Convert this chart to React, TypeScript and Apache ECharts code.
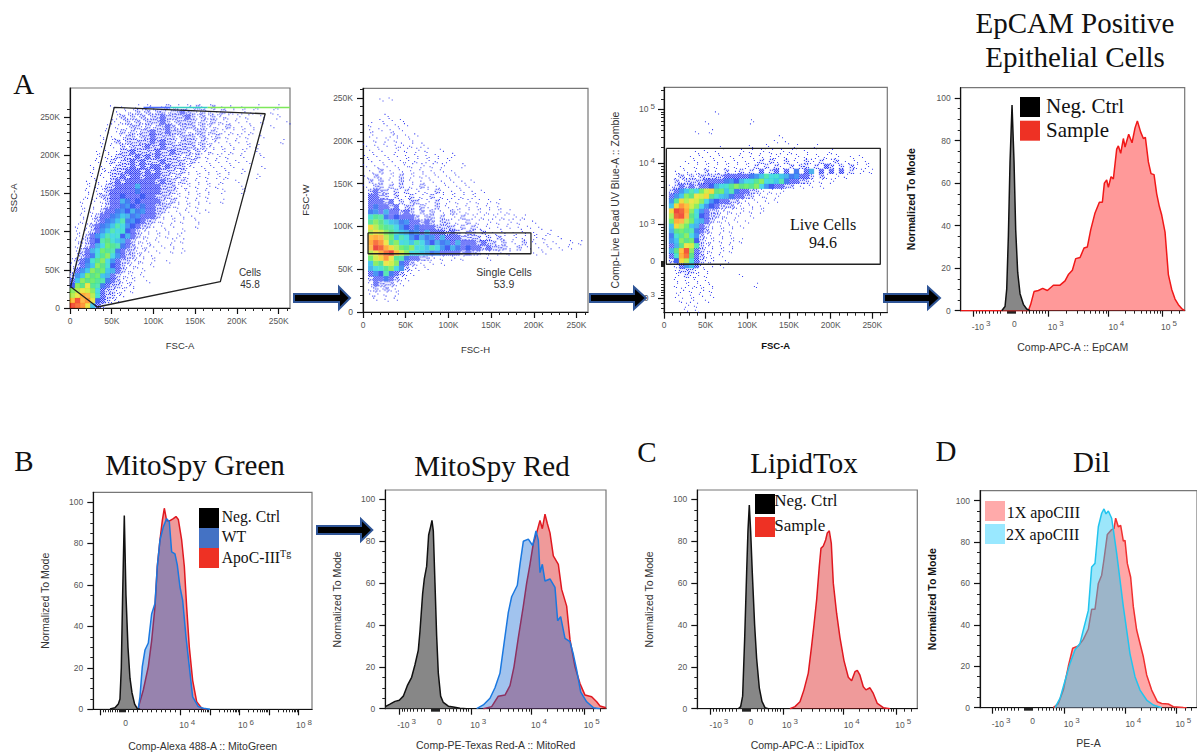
import React, { useEffect, useRef } from "react";
import * as echarts from "echarts";

const SANS = "Liberation Sans";
const SERIF = "Liberation Serif";

// ---------- density: '.'=none, 1..9 = blue -> red; bottom row last ----------
const cellsDensity = [
  "........1.1..1.11.1211.1121.2.1.1.1..1...1..",
  ".........1.1121212212232212111211.1.1...1...",
  ".........12121212232222321212111.1.1..1..1..",
  "........1.1212122232122221212111.1.1..1....1",
  ".......1.1.1221212232122212111.21.1.1...1...",
  ".......1.1212122322322211221211.1.1.1.......",
  "......1.1.12212232222122212112.1.1.1..1.....",
  "......1.1212222232322122212111.1.1.1......1.",
  "......1.1.2122232232222221211.1.1..1.1......",
  ".....1.1.12232222322322212111.1.1.1..1......",
  ".....1.1122223232322221212.1.1.1..1...1.....",
  ".....1.1212232322232222121.1.1.1.1.1........",
  "....1.1.12223232332322211.1.1.1.1.....1.....",
  "....1.112223332323222121.1.1.1.1..1.........",
  "....1.1.2232332333221211.1.1.1.1.....1......",
  "...1.1.12323333332322121.1.1..1..1..........",
  "...1.1122333343333222111.1.1.1....1.........",
  "...1.11233333433332221.1.1.1..1...1.........",
  "...1.12233433343322211.1.1.1................",
  "..1.1.1233443433332121.1.1.1..1.............",
  "..1.1.1233444343322211.1.1..................",
  "..1.1.23344444433221.1.1.1.1................",
  "..1.123344544433321.1.1.1...................",
  "..1.123445544432211.1.1..1..................",
  ".1.12344555443221.1.1....1..................",
  ".1.1234555543211.1.1..1.....................",
  ".1.2345555443211.1.1.1......................",
  ".112345655432111.1..1.1.....................",
  ".1123456654321111.1.1.......................",
  ".123456654322111.1..1.1.....................",
  ".12345665432211.1...........................",
  "123456654322111.1..1........................",
  "12345665432111..1...........................",
  "1345666543211.1.............................",
  "2456665432111.1.............................",
  "3566665432111..1............................",
  "4667654322111...............................",
  "67776532211.1...............................",
  "77887532211.................................",
  "8988743211..................................",
  "9987532.....................................",
];

const singleDensity = [
  "...1.1",
  "",
  "",
  "....1",
  "...1.1.1",
  ".1..1.1.1",
  ".1.1.1.1",
  ".1...11.1.1",
  "..1.1.1..1",
  "1.1.1.11.1.1",
  ".1.1..1.1.1.1..1",
  "1.1.1.1.1.1.1.1..1",
  ".1.1.1.11.1.1.1.1",
  "1.1.1.1.11.1.1.1...1",
  ".1.2.1.1.1.1.1.1.1",
  "1.21.1.2.1.11.1.1.1",
  ".2.2.1.2.1.1.1.1.1.1.1",
  "1.22.2.2.1.21.1.1.1.1",
  ".2322.2.2.1.1.21.1.1.1.1",
  ".3322.2.12.1.2.1.1.1.1",
  ".33323.2.22.1.2.1.1.1.1.1.1",
  ".343323.22.21.2.1.1.1.1.1.1",
  ".443433232.2.2.1.21.1.1.1.1.1",
  ".5654343332.22.2.1.2.1.1.1.1.1.1",
  ".6665544433232.22.1.2.1.1.1.1.1..1",
  ".77665544343332222.2.21.1.1.1.1.1.1",
  ".777665544434333232.22.2.1.1.1.1.1..1",
  ".8887655544444343332222.2.21.1.1.1.1..1",
  ".8987665555544444343332322.2.1.2.1.1.1..1.1",
  ".8998776665555544443433232221.2.1.1.1.1.1",
  ".7789987655544433332322.1.1.1....1.1",
  ".6778765433221.1.1.1....1",
  ".56677643211.1.1",
  ".4556654211.1",
  ".344543211",
  ".23343211",
  ".1322211",
  ".121211",
  ".11.1.1",
  "..1.1.1",
  "",
  "",
];

const liveDensity = [
  "..........1",
  "",
  "........1........1",
  "",
  "......1..1",
  ".......................1",
  "......................1.1",
  "...........1.....1..1.....1...1",
  "......1.1.1....1.1.1.1.1.1..1....1",
  ".....1.1.1.1.1.1.1.1.11.1.1.1.1.1.1..1.1",
  "....1.1.1.1.1.1.1.12.21.2.1.21.2.12.1.1.1",
  "...1..1.1.1.1.1.1.2.2.21.2.22.2.32.2.21.1",
  "..1.1.1.2.1.2.12.2.3.23.3.4.34.3.3.3.2.1.1",
  "..1212122222333334455555444332.21.1.1",
  "..2122223333444455665555433221.1.1",
  ".1232323344556666665443322.1.1.1",
  ".2345556776655433221.1.1",
  ".34566777655443322.11.1",
  ".4677776544332211.1.1.1",
  ".578876544322211.1.1",
  ".7998654322111.1.1.1",
  ".799865432211.1..1",
  ".688765432111.1.1",
  ".577654321.1.1.1",
  ".466654321.1.1",
  ".456654211.1.1",
  ".456664211.1.1.1",
  ".346775211.1.1",
  ".468963211.1.1",
  ".358963211.1",
  ".247753211..1",
  "..134531.1.1",
  "..12221.1",
  "..1.211.1......1",
  "..1.1.1.1",
  "..1.1.11.1........1",
  "...1.1.1.1",
  "..1..1.1.1",
  "...1.1..1",
  "....1.1",
  "....1.1",
];

// ---------- gates, in axis units ----------
const cellsGate = [[0.8, 27.9], [53, 262.6], [233.8, 254.3], [180, 34.4], [32.7, 1.3], [0.8, 27.9]];
const saturatedBlue = [[88, 262.4], [120, 262.4]];
const saturatedCyan = [[120, 262.4], [165, 262.4]];
const saturatedGreen = [[165, 262.4], [263.5, 262.4]];
const singleGate = [[5.9, 92.6], [196.7, 92.6], [196.7, 68.1], [5.9, 68.1], [5.9, 92.6]];
const liveGate = [[2.8, 729], [259.6, 729], [259.6, 215], [2.8, 215], [2.8, 729]];

// ---------- histograms: [display channel, normalized to mode] ----------
const epcamNeg = [[335, 0], [345, 2], [350, 10], [355, 35], [360, 70], [366, 96.7], [372, 70], [377, 38], [383, 18], [390, 8], [400, 3], [410, 0.8], [420, 0]];
const epcamSample = [[212, 0], [415, 0], [422, 3], [432, 9], [445, 9.5], [458, 10.5], [472, 9.5], [490, 12], [510, 12], [525, 14], [535, 17], [547, 19], [557, 24.5], [570, 25], [582, 29.5], [592, 30], [602, 38], [615, 46], [628, 51], [637, 51], [643, 60], [650, 61.5], [655, 58], [663, 63], [670, 62], [680, 76], [685, 77.5], [692, 74], [700, 81], [705, 77], [716, 83], [726, 79], [735, 86], [742, 89.3], [752, 84], [760, 81], [766, 81.5], [775, 70], [783, 64.5], [792, 64], [800, 55], [808, 49], [815, 45], [825, 37], [835, 17], [845, 10], [855, 5.5], [865, 2.8], [875, 1], [884, 0]];

const greenNeg = [[330, 0.2], [345, 0.7], [355, 2.5], [360, 5], [364, 20], [368, 55], [373, 93.5], [378, 55], [384, 30], [390, 15], [396, 8], [404, 2.5], [412, 0.3], [420, 0]];
const greenApo = [[415, 0.8], [430, 9.3], [445, 20.6], [455, 33], [465, 49.5], [472, 69], [480, 81.7], [487, 91], [493, 97], [500, 91], [510, 91], [520, 92], [528, 93], [535, 91.6], [545, 81.7], [553, 69], [560, 49.5], [568, 30], [578, 14], [590, 3.7], [605, 0.5], [620, 0]];
const greenWt = [[415, 0.5], [420, 6], [427, 20.6], [435, 28.6], [445, 32], [455, 46], [465, 51], [472, 69], [480, 81.7], [490, 88], [500, 92], [508, 90.5], [515, 76], [525, 75], [532, 69.6], [540, 59], [548, 52.7], [558, 35], [568, 20.6], [578, 6], [595, 1.3], [610, 0.5], [630, 0]];

const redNeg = [[226, 1], [240, 2.2], [255, 3.5], [268, 4], [280, 6], [292, 11], [305, 15], [315, 21], [325, 28], [330, 37], [338, 55], [343, 62], [350, 68], [356, 83], [362, 87], [366, 90], [370, 85], [375, 60], [380, 35], [385, 17], [392, 6], [400, 3], [415, 1.2], [430, 0.8], [450, 0.2], [470, 0]];
const redApo = [[520, 0], [545, 1], [565, 6], [585, 6.5], [600, 11], [612, 20], [625, 34], [640, 49], [650, 60], [660, 69], [670, 79], [680, 84], [690, 90], [697, 86], [705, 93], [712, 88.5], [720, 84], [730, 73], [745, 69], [755, 57], [770, 49], [780, 33], [795, 20], [810, 12], [825, 6.5], [845, 5.7], [860, 3.3], [870, 1.3], [888, 0.5]];
const redWt = [[500, 0], [520, 1.8], [540, 5], [555, 10], [570, 17], [582, 31], [595, 46], [605, 53.5], [622, 59], [630, 69], [640, 80], [655, 81], [668, 78], [678, 85], [685, 80.5], [690, 65], [697, 69], [705, 61], [720, 62], [735, 58], [743, 42], [752, 44], [765, 33.6], [780, 32], [790, 26], [800, 18.5], [812, 8], [830, 3.3], [850, 0.5], [870, 0]];

const lipidNeg = [[355, 0], [362, 1], [368, 6], [374, 33], [380, 65], [384, 85], [388, 97.3], [392, 85], [397, 65], [404, 40], [410, 24], [418, 10], [426, 3.5], [435, 0.5], [445, 0]];
const lipidSample = [[510, 0], [525, 1], [540, 3.3], [552, 9], [565, 17], [575, 30], [582, 40], [590, 52], [598, 68], [603, 76.6], [610, 77.7], [617, 80.6], [622, 84], [628, 85], [634, 79], [640, 60], [650, 45.5], [660, 34], [672, 23], [685, 15], [695, 13.4], [705, 17.7], [712, 18.3], [720, 16], [730, 10.5], [738, 9], [750, 10], [760, 7.3], [772, 2.5], [790, 0.5], [810, 0]];

const dilOne = [[400, 0], [415, 2], [430, 8.5], [445, 20], [458, 28.7], [475, 29.8], [490, 33], [505, 38], [515, 47.5], [525, 47.5], [535, 60], [545, 64], [552, 71.7], [562, 83.7], [575, 86], [582, 86.5], [587, 91.5], [595, 87.4], [602, 88], [610, 80.5], [615, 80.8], [622, 69.7], [632, 63], [640, 48.8], [650, 37.5], [660, 31], [670, 24.6], [680, 15.8], [695, 8.5], [712, 2.9], [725, 2], [745, 1.8], [760, 0.5], [790, 0.1], [800, 0]];
const dilTwo = [[405, 0], [420, 4.5], [435, 13], [450, 21.4], [465, 28], [480, 31], [490, 37.5], [505, 47], [515, 68], [525, 69.7], [535, 87.4], [545, 93.9], [552, 96], [558, 93.6], [565, 95], [575, 91.5], [580, 86], [590, 74.5], [600, 61.7], [610, 48.8], [620, 37.5], [630, 26], [645, 15], [660, 8.5], [680, 3.7], [700, 1.3], [725, 0]];

// ---------- tick labels: [position, text] ----------
const kTicks = [0, 50, 100, 150, 200, 250];
const normTicks = [0, 20, 40, 60, 80, 100];
const liveYLabels: [number, string][] = [[902, "10^5"], [664, "10^4"], [393, "10^3"], [230, "0"], [66, "-10^3"]];
const epcamLabels: [number, string][] = [[273, "-10^3"], [373, "0"], [497, "10^3"], [679, "10^4"], [837, "10^5"]];
const greenLabels: [number, string][] = [[377, "0"], [562, "10^4"], [738, "10^6"], [912, "10^8"]];
const redLabels: [number, string][] = [[290, "-10^3"], [388, "0"], [505, "10^3"], [687, "10^4"], [845, "10^5"]];
const lipidLabels: [number, string][] = [[297, "-10^3"], [393, "0"], [510, "10^3"], [695, "10^4"], [850, "10^5"]];
const dilLabels: [number, string][] = [[243, "-10^3"], [338, "0"], [455, "10^3"], [640, "10^4"], [790, "10^5"]];

// ---------- helpers for axis decoration ----------
const range = (a: number, b: number, s: number) => { const o: number[] = []; for (let v = a; v <= b + 1e-9; v += s) o.push(v); return o; };
const decade = (a: number, b: number) => [2, 3, 4, 5, 6, 7, 8, 9].map((k) => a + Math.log10(k) * (b - a));
const spread = [0.1, 0.18, 0.27, 0.37, 0.48, 0.6, 0.72, 0.84];
const biexMinor = (neg: number, z: number, p3: number, ...decs: number[]) => {
  const out: number[] = [];
  spread.forEach((f) => { out.push(neg + (z - neg) * f * 0.85); out.push(p3 - (p3 - z) * f * 0.85); });
  out.push(...range(z - 12, z + 12, 3));
  for (let i = 0; i + 1 < decs.length; i++) out.push(...decade(decs[i], decs[i + 1]));
  return out;
};
const supLabel = (t: string) => {
  const m = t.split("^");
  return m.length === 2 ? `{b|${m[0]}}{s|${m[1]}}` : `{b|${t}}`;
};
const rich = {
  b: { fontSize: 8.5, fontFamily: SANS, color: "#555" },
  s: { fontSize: 8, fontFamily: SANS, color: "#555", padding: [0, 0, 6, 2] },
};

type Box = { l: number; r: number; t: number; b: number };
type AxisCfg = { min: number; max: number; majors: number[]; minors: number[]; labels: [number, string][]; name: string; gap: number; nameBold?: boolean; nameSize?: number; margin: number };

const makeAxis = (c: AxisCfg, pos: string) => [
  {
    type: "value", position: pos, min: c.min, max: c.max, splitLine: { show: false }, name: c.name, nameLocation: "middle", nameGap: c.gap,
    nameTextStyle: { fontFamily: SANS, fontSize: c.nameSize ?? 10.5, color: c.nameBold ? "#111" : "#333", fontWeight: c.nameBold ? "bold" : "normal" },
    axisLine: { show: true, onZero: false, lineStyle: { color: "#111", width: 1.2 } },
    axisTick: { show: true, length: 6, customValues: c.majors, lineStyle: { color: "#111", width: 1.2 } },
    minorTick: { show: false },
    axisLabel: {
      show: true, margin: c.margin, customValues: c.labels.map((x) => x[0]), hideOverlap: false,
      formatter: (v: number) => { const f = c.labels.find((x) => Math.abs(x[0] - v) < 1e-6); return f ? supLabel(f[1]) : ""; },
      rich,
    },
  },
  {
    type: "value", position: pos, min: c.min, max: c.max, splitLine: { show: false },
    axisLine: { show: false, onZero: false },
    axisTick: { show: true, length: 3, customValues: c.minors, lineStyle: { color: "#222", width: 1 } },
    axisLabel: { show: false },
  },
];

const kLabels = (): [number, string][] => kTicks.map((v) => [v, v === 0 ? "0" : `${v}K`]);
const normLabels = (): [number, string][] => normTicks.map((v) => [v, `${v}`]);

const grids: any[] = [];
const xAxes: any[] = [];
const yAxes: any[] = [];
const addPanel = (b: Box, x: AxisCfg, y: AxisCfg) => {
  const i = grids.length;
  grids.push({ show: true, left: b.l, top: b.t, width: b.r - b.l, height: b.b - b.t, borderColor: "#777", borderWidth: 1.2, backgroundColor: "#fff" });
  makeAxis(x, "bottom").forEach((a) => xAxes.push({ ...a, gridIndex: i }));
  makeAxis(y, "left").forEach((a) => yAxes.push({ ...a, gridIndex: i }));
  return i;
};
const normY = (max: number, gap: number, bold = false): AxisCfg => ({ min: 0, max, majors: normTicks, minors: range(5, 95, 5).filter((v) => v % 20 !== 0), labels: normLabels(), name: "Normalized To Mode", gap, nameBold: bold, margin: 10 });
const kAxis = (max: number, name: string, gap: number, bold = false, size = 9.5): AxisCfg => ({ min: 0, max, majors: kTicks, minors: range(10, 260, 10).filter((v) => v <= max && v % 50 !== 0), labels: kLabels(), name, gap, nameBold: bold, nameSize: size, margin: 8 });

const P_CELLS = addPanel({ l: 70, r: 290, t: 88, b: 308 }, kAxis(263.5, "FSC-A", 32), { ...kAxis(288, "SSC-A", 52), margin: 10 });
const P_SINGLE = addPanel({ l: 363, r: 588, t: 88.3, b: 312 }, kAxis(263.5, "FSC-H", 32), { ...kAxis(261.5, "FSC-W", 53), margin: 10 });
const P_LIVE = addPanel({ l: 664, r: 887.3, t: 87.3, b: 312.7 }, kAxis(268, "FSC-A", 28, true, 9.5), {
  min: 0, max: 1000, majors: [66, 393, 664, 902], minors: biexMinor(66, 216, 393, 393, 664, 902).concat([20, 40, 948, 985]), labels: liveYLabels, name: "Comp-Live Dead UV Blue-A :: Zombie", gap: 44, margin: 9,
});
const P_EPCAM = addPanel({ l: 960.7, r: 1184.7, t: 87.7, b: 310.7 }, {
  min: 212, max: 884, majors: [250, 474, 656, 817], minors: biexMinor(250, 365, 474, 474, 656, 817).concat([845, 868]), labels: epcamLabels, name: "Comp-APC-A :: EpCAM", gap: 31, margin: 9,
}, normY(104.9, 44, true));
const P_GREEN = addPanel({ l: 93.3, r: 312, t: 492.3, b: 709.3 }, {
  min: 280, max: 936, majors: [300, 540, 630, 718, 807, 895], minors: range(310, 352, 7).concat(range(358, 376, 3), range(385, 530, 14), decade(540, 630), decade(630, 718), decade(718, 807), decade(807, 895)), labels: greenLabels, name: "Comp-Alexa 488-A :: MitoGreen", gap: 31, margin: 9,
}, normY(104.7, 43));
const P_RED = addPanel({ l: 385.3, r: 606, t: 490, b: 708.7 }, {
  min: 226, max: 888, majors: [267, 485, 665, 823], minors: biexMinor(267, 375, 485, 485, 665, 823).concat([850, 872]), labels: redLabels, name: "Comp-PE-Texas Red-A :: MitoRed", gap: 31, margin: 9,
}, normY(104.5, 43));
const P_LIPID = addPanel({ l: 697.3, r: 917.3, t: 490, b: 708.7 }, {
  min: 232, max: 892, majors: [272, 490, 671, 828], minors: biexMinor(272, 380, 490, 490, 671, 828).concat([852, 875]), labels: lipidLabels, name: "Comp-APC-A :: LipidTox", gap: 31, margin: 9,
}, normY(104.5, 43));
const P_DIL = addPanel({ l: 980, r: 1197, t: 490.7, b: 707.7 }, {
  min: 180, max: 831, majors: [218, 433, 616, 770], minors: biexMinor(218, 325, 433, 433, 616, 770).concat([795, 815]), labels: dilLabels, name: "PE-A", gap: 30, margin: 9,
}, normY(104.8, 43, true));

// ---------- marker styles for the density cells ----------
const solidColors: Record<number, string[]> = {
  4: ["#1438f0", "#1a7cf0", "#1c5cf0", "#20a0e8"],
  5: ["#18b8e8", "#20d8c8", "#20d0e0", "#30e0a0"],
  6: ["#30e080", "#50e850", "#38dc70", "#70e840"],
  7: ["#c8e820", "#e8e020", "#a8e830", "#f0d010"],
  8: ["#ff9a10", "#ffb010", "#ff8010", "#ffa820"],
  9: ["#f02a10", "#f04010", "#e81c10", "#f85010"],
};
const stamps: Record<number, number[][][]> = {
  1: [[[0, 1], [3, 3]], [[2, 0], [4, 2], [1, 4]], [[1, 2], [4, 4]], [[3, 0], [0, 3], [2, 4]]],
  2: [
    [[0, 0], [2, 1], [4, 1], [1, 3], [3, 2], [4, 4]],
    [[1, 0], [3, 0], [0, 2], [2, 3], [4, 3], [1, 4]],
    [[0, 1], [2, 0], [4, 2], [2, 2], [0, 4], [3, 4]],
    [[3, 1], [1, 1], [4, 0], [0, 3], [2, 4], [4, 4]],
  ],
  3: [0, 1, 0, 1].map((v) => range(0, 4, 1).flatMap((x) => range(0, 4, 1).filter((y) => (x + y + v) % 2 === 0).map((y) => [x, y]))),
};
const stampPath = (dots: number[][]) => `path://M0 0L0 0M5 5L5 5${dots.map(([x, y]) => `M${x} ${y}h1v1h-1z`).join("")}`;

const densitySeries = (rows: string[], panel: number, cw: number, ch: number) => {
  const out: any[] = [];
  const base = { type: "scatter", silent: true, xAxisIndex: panel * 2, yAxisIndex: panel * 2 };
  const under: Record<number, any[]> = { 2: [], 3: [] };
  const dots: any[] = [];
  const solids: Record<number, any[]> = { 4: [], 5: [], 6: [], 7: [], 8: [], 9: [] };
  rows.forEach((row, i) => {
    const r = rows.length - 1 - i;
    for (let c = 0; c < row.length; c++) {
      if (row[c] === ".") continue;
      const level = Number(row[c]);
      const pos = [(c + 0.5) * cw, (r + 0.5) * ch];
      const v = (c * 7 + r * 13) % 4;
      if (level <= 3) {
        if (under[level]) under[level].push(pos);
        dots.push({ value: pos, symbol: stampPath(stamps[level][v]) });
      } else {
        solids[level].push({ value: pos, itemStyle: { color: solidColors[level][v] } });
      }
    }
  });
  out.push({ ...base, data: under[2], symbol: "rect", symbolSize: 5.2, itemStyle: { color: "#e2e5ff" }, z: 2 });
  out.push({ ...base, data: under[3], symbol: "rect", symbolSize: 5.2, itemStyle: { color: "#aeb7ff" }, z: 2.1 });
  out.push({ ...base, data: dots, symbolSize: 5.2, itemStyle: { color: "#0a14f0" }, z: 2.2 });
  [4, 5, 6, 7, 8, 9].forEach((level) => {
    out.push({ ...base, data: solids[level], symbol: "rect", symbolSize: 5.3, z: 2.3 + level * 0.01 });
  });
  return out;
};
const gateSeries = (data: number[][], panel: number, color = "#222", w = 1.3) => ({
  type: "line", silent: true, xAxisIndex: panel * 2, yAxisIndex: panel * 2, data, symbol: "none", lineStyle: { color, width: w }, z: 5,
});
const hist = (data: number[][], panel: number, line: string, fill: string, z: number, w = 1.5) => ({
  type: "line", silent: true, xAxisIndex: panel * 2, yAxisIndex: panel * 2, data, symbol: "none", smooth: false,
  lineStyle: { color: line, width: w }, areaStyle: { color: fill, opacity: 1, origin: "start" }, z,
});

// ---------- annotation helpers ----------
const txt = (text: string, x: number, y: number, fontSize: number, fontFamily: string, extra: any = {}, align = "center") => ({
  type: "text", x, y, z: 60, silent: true,
  style: { text, fontSize, fontFamily, fill: "#111", align, verticalAlign: "middle", ...extra },
});
const swatch = (x: number, y: number, w: number, h: number, fill: string) => ({ type: "rect", z: 55, silent: true, shape: { x, y, width: w, height: h }, style: { fill } });
const arrow = (x0: number, x1: number, head: number, cy: number) => ({
  type: "polygon", z: 80, silent: true,
  shape: { points: [[x0, cy - 4], [head, cy - 4], [head, cy - 11], [x1, cy], [head, cy + 11], [head, cy + 4], [x0, cy + 4]] },
  style: { fill: "#000", stroke: "#2f5597", lineWidth: 2 },
});

export default function App() {
  const ref = useRef<HTMLDivElement>(null);
  useEffect(() => {
    document.body.style.margin = "0";
    const chart = echarts.init(ref.current!, undefined, { renderer: "svg" });
    const GREY = "rgba(70,70,70,0.65)";
    const series: any[] = [
      ...densitySeries(cellsDensity, P_CELLS, 6, 6.5),
      gateSeries(saturatedBlue, P_CELLS, "#4a6cff", 1.5),
      gateSeries(saturatedCyan, P_CELLS, "#35d0c0", 1.5),
      gateSeries(saturatedGreen, P_CELLS, "#7de85a", 1.5),
      gateSeries(cellsGate, P_CELLS),
      ...densitySeries(singleDensity, P_SINGLE, 6, 6),
      gateSeries(singleGate, P_SINGLE),
      ...densitySeries(liveDensity, P_LIVE, 6, 22),
      gateSeries(liveGate, P_LIVE),
      hist(epcamSample, P_EPCAM, "#f01818", "rgba(255,60,60,0.52)", 3),
      hist(epcamNeg, P_EPCAM, "#111", GREY, 4),
      hist(greenApo, P_GREEN, "#e01820", "rgba(220,30,30,0.45)", 3),
      hist(greenWt, P_GREEN, "#1a78e0", "rgba(0,93,209,0.37)", 4),
      hist(greenNeg, P_GREEN, "#111", GREY, 5),
      hist(redApo, P_RED, "#e01820", "rgba(220,30,30,0.45)", 3),
      hist(redWt, P_RED, "#1a78e0", "rgba(0,93,209,0.37)", 4),
      hist(redNeg, P_RED, "#111", GREY, 5),
      hist(lipidSample, P_LIPID, "#e01820", "rgba(220,30,30,0.45)", 3),
      hist(lipidNeg, P_LIPID, "#111", GREY, 4),
      hist(dilOne, P_DIL, "#f03030", "rgba(255,60,60,0.45)", 3),
      hist(dilTwo, P_DIL, "#22c4ee", "rgba(35,199,244,0.45)", 4),
    ];
    const graphic: any[] = [
      txt("A", 23.7, 84, 29, SERIF), txt("B", 24, 461, 29, SERIF), txt("C", 647, 452, 29, SERIF), txt("D", 946, 451, 29, SERIF),
      txt("EpCAM Positive", 1075, 23, 29, SERIF), txt("Epithelial Cells", 1075, 57, 29, SERIF),
      txt("MitoSpy Green", 195, 465, 29, SERIF), txt("MitoSpy Red", 492, 466, 29, SERIF), txt("LipidTox", 804, 463, 29, SERIF), txt("Dil", 1091.5, 462, 29, SERIF),
      txt("Cells", 250, 272, 10, SANS, { fill: "#333" }), txt("45.8", 250, 284, 10, SANS, { fill: "#333" }),
      txt("Single Cells", 504, 272, 10.5, SANS, { fill: "#333" }), txt("53.9", 504, 284, 10.5, SANS, { fill: "#333" }),
      txt("Live Cells", 823, 224, 16, SERIF), txt("94.6", 823, 242, 16, SERIF),
      swatch(1020, 97, 20, 20, "#000"), swatch(1020, 120.7, 20, 20, "#ee3124"),
      txt("Neg. Ctrl", 1046, 105.5, 21, SERIF, {}, "left"), txt("Sample", 1046, 129.5, 21, SERIF, {}, "left"),
      swatch(199, 508, 20, 20, "#000"), swatch(199, 528, 20, 20, "#4472c4"), swatch(199, 548, 20, 20, "#ee3124"),
      txt("Neg. Ctrl", 221.7, 516, 15.7, SERIF, {}, "left"), txt("WT", 221.7, 536.7, 15.7, SERIF, {}, "left"),
      {
        type: "text", x: 221.7, y: 557, z: 60, silent: true,
        style: {
          text: "{a|ApoC-III}{b|Tg}", verticalAlign: "middle", align: "left", fill: "#111",
          rich: { a: { fontSize: 15.7, fontFamily: SERIF, fill: "#111" }, b: { fontSize: 10, fontFamily: SERIF, fill: "#111", padding: [0, 0, 8, 0] } },
        },
      },
      swatch(755, 494, 20, 20, "#000"), swatch(755, 517, 20, 20, "#ee3124"),
      txt("Neg. Ctrl", 774.3, 500.7, 17, SERIF, {}, "left"), txt("Sample", 774.3, 525, 17, SERIF, {}, "left"),
      swatch(985, 501, 20, 20, "#ffaaaa"), swatch(985, 524, 20, 20, "#99e8ff"),
      txt("1X apoCIII", 1006.7, 512.7, 16, SERIF, {}, "left"), txt("2X apoCIII", 1006, 534, 16, SERIF, {}, "left"),
      arrow(294, 350, 339, 298), arrow(590, 646, 634, 298), arrow(884, 940, 928, 298), arrow(317, 372.3, 361, 530),
    ];
    chart.setOption({ animation: false, backgroundColor: "#fff", grid: grids, xAxis: xAxes, yAxis: yAxes, series, graphic });
    return () => chart.dispose();
  }, []);
  return <div ref={ref} style={{ position: "absolute", left: 0, top: 0, width: 1197, height: 754, background: "#fff" }} />;
}
